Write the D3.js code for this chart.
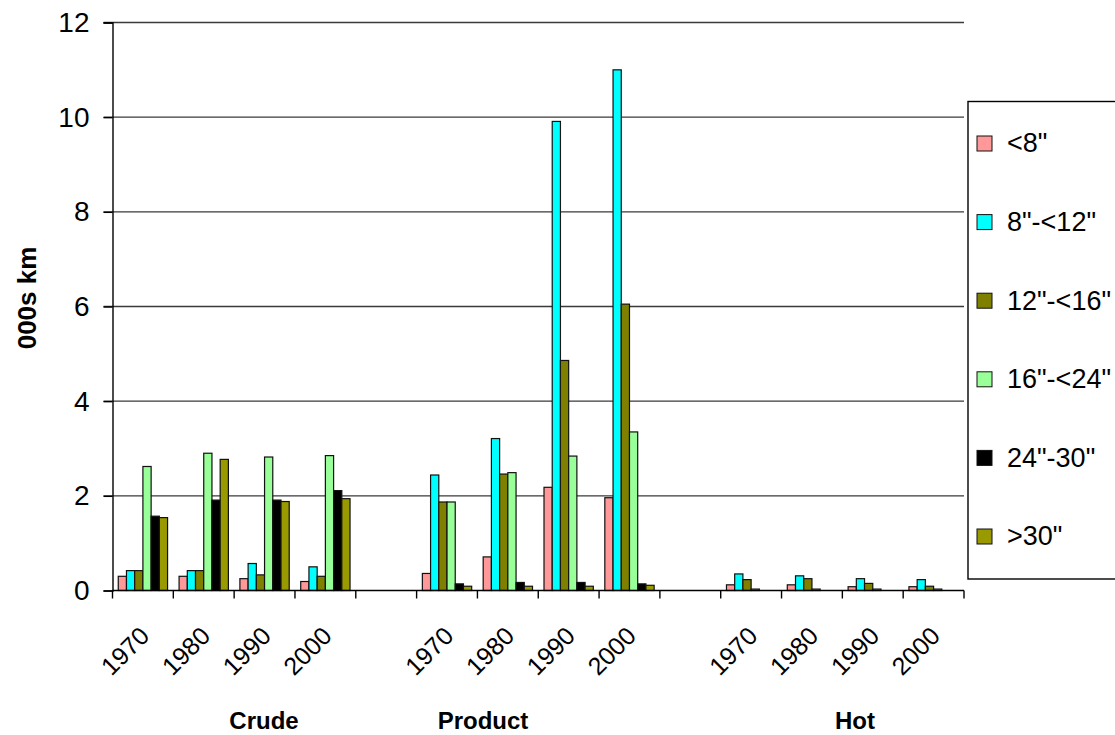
<!DOCTYPE html>
<html>
<head>
<meta charset="utf-8">
<script src="https://cdn.jsdelivr.net/npm/d3@7/dist/d3.min.js"></script>
<style>
  html, body { margin: 0; padding: 0; background: #fff; }
  svg { display: block; font-family: "Liberation Sans", Arial, sans-serif; }
</style>
</head>
<body>
<svg id="chart" width="1115" height="735"></svg>
<script>
// Pipeline length by diameter class, thousands of km
const groups = ["Crude", "Product", "Hot"];
const years = ["1970", "1980", "1990", "2000"];
// 14 category slots: four years per group with an empty slot between groups
const categories = ["1970", "1980", "1990", "2000", "",
                    "1970", "1980", "1990", "2000", "",
                    "1970", "1980", "1990", "2000"];
const seriesNames = ['<8"', '8"-<12"', '12"-<16"', '16"-<24"', '24"-30"', '>30"'];
const seriesColors = ["#FF9999", "#00FFFF", "#808000", "#99FF99", "#000000", "#999900"];

const under8   = [0.30, 0.30, 0.25, 0.19, null, 0.36, 0.71, 2.18, 1.96, null, 0.12, 0.12, 0.08, 0.08];
const d8to12   = [0.42, 0.42, 0.57, 0.50, null, 2.44, 3.21, 9.91, 11.0, null, 0.35, 0.31, 0.25, 0.23];
const d12to16  = [0.42, 0.42, 0.33, 0.30, null, 1.87, 2.46, 4.86, 6.05, null, 0.23, 0.25, 0.15, 0.09];
const d16to24  = [2.62, 2.90, 2.82, 2.85, null, 1.87, 2.49, 2.84, 3.35, null, 0.03, 0.03, 0.03, 0.03];
const d24to30  = [1.57, 1.91, 1.91, 2.11, null, 0.14, 0.17, 0.17, 0.14, null, 0, 0, 0, 0];
const over30   = [1.54, 2.77, 1.88, 1.94, null, 0.09, 0.09, 0.09, 0.11, null, 0, 0, 0, 0];
const seriesValues = [under8, d8to12, d12to16, d16to24, d24to30, over30];

const yTicks = [0, 2, 4, 6, 8, 10, 12];

const svg = d3.select("#chart");
const plot = { left: 112.5, right: 964, top: 22.5, bottom: 590.5 };

const x0 = d3.scaleBand()
  .domain(d3.range(categories.length))
  .range([plot.left, plot.right])
  .padding(0);
const x1 = d3.scaleBand()
  .domain(d3.range(seriesNames.length))
  .range([0, x0.bandwidth()])
  .paddingInner(0)
  .paddingOuter(0.7);
const y = d3.scaleLinear().domain([0, 12]).range([plot.bottom, plot.top]);

// horizontal gridlines (with the tick stub to the left of the axis)
svg.append("g")
  .selectAll("line")
  .data(yTicks.filter(d => d > 0))
  .join("line")
  .attr("x1", plot.left - 9).attr("x2", plot.right)
  .attr("y1", d => y(d)).attr("y2", d => y(d))
  .attr("stroke", "#3a3a3a").attr("stroke-width", 1.4);

// bars
const barData = [];
seriesValues.forEach((vals, s) => {
  vals.forEach((v, c) => {
    if (v !== null && v > 0) barData.push({ s, c, v });
  });
});
svg.append("g")
  .selectAll("rect")
  .data(barData)
  .join("rect")
  .attr("x", d => x0(d.c) + x1(d.s))
  .attr("width", x1.bandwidth())
  .attr("y", d => y(d.v))
  .attr("height", d => y(0) - y(d.v))
  .attr("fill", d => seriesColors[d.s])
  .attr("stroke", "#111")
  .attr("stroke-width", 1.2);

// y axis
const yAxis = d3.axisLeft(y).tickValues(yTicks).tickSize(9).tickPadding(14);
const gy = svg.append("g")
  .attr("transform", `translate(${plot.left},0)`)
  .call(yAxis);
gy.select(".domain").attr("stroke", "#000").attr("stroke-width", 1.4);
gy.selectAll(".tick line").attr("stroke", "#000").attr("stroke-width", 1.4);
gy.selectAll(".tick text")
  .attr("font-size", 28)
  .attr("font-family", "Liberation Sans, Arial, sans-serif")
  .attr("fill", "#000");

// x axis: ticks at category boundaries
const xAxisG = svg.append("g");
xAxisG.append("line")
  .attr("x1", plot.left).attr("x2", plot.right)
  .attr("y1", y(0)).attr("y2", y(0))
  .attr("stroke", "#000").attr("stroke-width", 1.4);
const boundaries = d3.range(categories.length + 1).map(i =>
  i < categories.length ? x0(i) : x0(categories.length - 1) + x0.bandwidth());
xAxisG.selectAll("line.tick")
  .data(boundaries)
  .join("line")
  .attr("class", "tick")
  .attr("x1", d => d).attr("x2", d => d)
  .attr("y1", y(0)).attr("y2", y(0) + 8)
  .attr("stroke", "#000").attr("stroke-width", 1.4);

// rotated year labels
xAxisG.selectAll("text.year")
  .data(categories.map((label, i) => ({ label, i })).filter(d => d.label !== ""))
  .join("text")
  .attr("class", "year")
  .attr("text-anchor", "end")
  .attr("font-size", 25)
  .attr("transform", d => `translate(${x0(d.i) + x0.bandwidth() / 2 + 8},${y(0) + 47}) rotate(-45)`)
  .text(d => d.label);

// group labels under the axis
const groupX = [264, 483, 855];
svg.append("g")
  .selectAll("text")
  .data(groups)
  .join("text")
  .attr("x", (d, i) => groupX[i])
  .attr("y", 729)
  .attr("text-anchor", "middle")
  .attr("font-size", 24)
  .attr("font-weight", "bold")
  .text(d => d);

// y axis title
svg.append("text")
  .attr("transform", "translate(36,298) rotate(-90)")
  .attr("text-anchor", "middle")
  .attr("font-size", 26)
  .attr("font-weight", "bold")
  .text("000s km");

// legend
const legend = svg.append("g");
legend.append("rect")
  .attr("x", 968).attr("y", 101.5)
  .attr("width", 160).attr("height", 477.5)
  .attr("fill", "#fff").attr("stroke", "#000").attr("stroke-width", 1.4);
const itemY = d3.scalePoint().domain(d3.range(seriesNames.length)).range([143, 536]);
const items = legend.selectAll("g.item")
  .data(seriesNames.map((name, i) => ({ name, i })))
  .join("g")
  .attr("class", "item")
  .attr("transform", d => `translate(977,${itemY(d.i)})`);
items.append("rect")
  .attr("x", 0).attr("y", -7)
  .attr("width", 15).attr("height", 15)
  .attr("fill", d => seriesColors[d.i])
  .attr("stroke", "#111").attr("stroke-width", 1);
items.append("text")
  .attr("x", 30).attr("y", 0)
  .attr("dy", "0.35em")
  .attr("font-size", 27)
  .text(d => d.name);
</script>
</body>
</html>
